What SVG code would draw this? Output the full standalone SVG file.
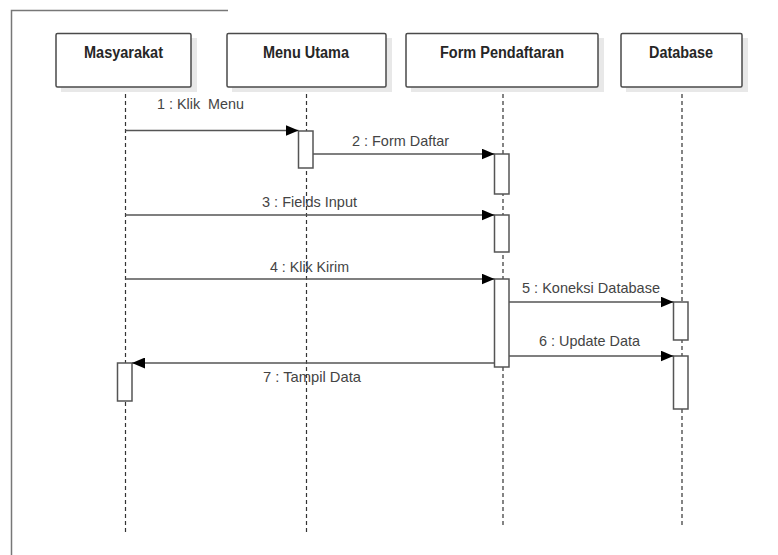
<svg xmlns="http://www.w3.org/2000/svg" width="778" height="555" viewBox="0 0 778 555">
<style>
.hd{fill:#fff;stroke:#4a4a4a;stroke-width:1.5}
.sh{fill:#e8e8e8;stroke:none}
.ht{font-family:"Liberation Sans Narrow","Liberation Sans",Arial,sans-serif;font-size:16px;font-weight:bold;fill:#262626;text-anchor:start}
.ll{stroke:#333;stroke-width:1.2;stroke-dasharray:4 3;fill:none}
.act{fill:#fff;stroke:#555;stroke-width:1.5}
.msg{stroke:#555;stroke-width:1.5;fill:none}
.lb{font-family:"Liberation Sans Narrow","Liberation Sans",Arial,sans-serif;font-size:15px;fill:#444}
</style>
<defs>
<marker id="ah" viewBox="0 0 13 11" refX="13" refY="5.5" markerWidth="13" markerHeight="11" markerUnits="userSpaceOnUse" orient="auto">
<path d="M0,0 L13,5.5 L0,11 Z" fill="#000"/>
</marker>
</defs>
<rect width="778" height="555" fill="#fff"/>
<g id="frame">
<path d="M11.5,555 L11.5,10.5 L228,10.5" fill="none" stroke="#777" stroke-width="1.5"/>
</g>
<g id="lifelines">
<line class="ll" x1="125.5" y1="87" x2="125.5" y2="535"/>
<line class="ll" x1="306.5" y1="87" x2="306.5" y2="535"/>
<line class="ll" x1="503" y1="87" x2="503" y2="525"/>
<line class="ll" x1="682" y1="87" x2="682" y2="525"/>
</g>
<g id="masyarakat">
<rect class="sh" x="61" y="38" width="136" height="54"/>
<rect class="hd" x="56" y="33.5" width="135" height="53.5" rx="1.5"/>
<text class="ht" x="84" y="57.5" textLength="79" lengthAdjust="spacingAndGlyphs">Masyarakat</text>
<rect class="act" x="117.5" y="363" width="14.5" height="38"/>
</g>
<g id="menu-utama">
<rect class="sh" x="232" y="38" width="160" height="54"/>
<rect class="hd" x="227" y="33.5" width="159" height="53.5" rx="1.5"/>
<text class="ht" x="263" y="57.5" textLength="86" lengthAdjust="spacingAndGlyphs">Menu Utama</text>
<rect class="act" x="298.5" y="131" width="14.5" height="37"/>
</g>
<g id="form-pendaftaran">
<rect class="sh" x="411" y="38" width="193" height="54"/>
<rect class="hd" x="406" y="33.5" width="192" height="53.5" rx="1.5"/>
<text class="ht" x="440" y="57.5" textLength="124" lengthAdjust="spacingAndGlyphs">Form Pendaftaran</text>
<rect class="act" x="494.5" y="154" width="14.5" height="40"/>
<rect class="act" x="494.5" y="215" width="14.5" height="37"/>
<rect class="act" x="494.5" y="279" width="14.5" height="88"/>
</g>
<g id="database">
<rect class="sh" x="626" y="38" width="122" height="54"/>
<rect class="hd" x="621" y="33.5" width="121" height="53.5" rx="1.5"/>
<text class="ht" x="649" y="57.5" textLength="64" lengthAdjust="spacingAndGlyphs">Database</text>
<rect class="act" x="673.5" y="302" width="14.5" height="38"/>
<rect class="act" x="673.5" y="356" width="14.5" height="53"/>
</g>
<g id="connectors">
<line class="msg" x1="125.5" y1="130.5" x2="298.5" y2="130.5" marker-end="url(#ah)"/>
<text class="lb" x="157" y="109" textLength="87" lengthAdjust="spacingAndGlyphs" xml:space="preserve">1 : Klik  Menu</text>
<line class="msg" x1="313" y1="154" x2="494.5" y2="154" marker-end="url(#ah)"/>
<text class="lb" x="352" y="146" textLength="97" lengthAdjust="spacingAndGlyphs">2 : Form Daftar</text>
<line class="msg" x1="125.5" y1="215" x2="494.5" y2="215" marker-end="url(#ah)"/>
<text class="lb" x="262" y="207" textLength="95" lengthAdjust="spacingAndGlyphs">3 : Fields Input</text>
<line class="msg" x1="125.5" y1="279" x2="494.5" y2="279" marker-end="url(#ah)"/>
<text class="lb" x="270" y="272" textLength="79" lengthAdjust="spacingAndGlyphs">4 : Klik Kirim</text>
<line class="msg" x1="509" y1="302" x2="673.5" y2="302" marker-end="url(#ah)"/>
<text class="lb" x="522" y="293" textLength="138" lengthAdjust="spacingAndGlyphs">5 : Koneksi Database</text>
<line class="msg" x1="509" y1="356" x2="673.5" y2="356" marker-end="url(#ah)"/>
<text class="lb" x="539" y="346" textLength="101" lengthAdjust="spacingAndGlyphs">6 : Update Data</text>
<line class="msg" x1="494.5" y1="363" x2="132" y2="363" marker-end="url(#ah)"/>
<text class="lb" x="263" y="382" textLength="98" lengthAdjust="spacingAndGlyphs">7 : Tampil Data</text>
</g>
</svg>
